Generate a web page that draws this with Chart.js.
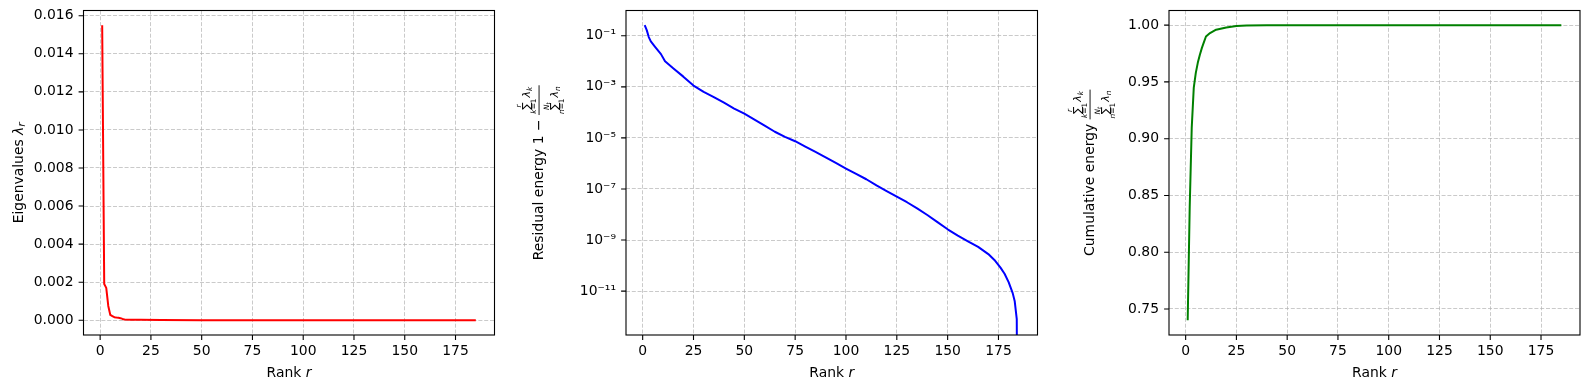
<!DOCTYPE html>
<html>
<head>
<meta charset="utf-8">
<script src="https://cdn.jsdelivr.net/npm/chart.js@4.4.1/dist/chart.umd.min.js"></script>
<style>
  html, body { margin: 0; padding: 0; background: #fff; }
  #wrap { position: relative; width: 1590px; height: 389px; overflow: hidden; }
  canvas { position: absolute; top: 0; }
</style>
</head>
<body>
<div id="wrap">
  <canvas id="c1" width="505" height="389" style="left:0px"></canvas>
  <canvas id="c2" width="545" height="389" style="left:505px"></canvas>
  <canvas id="c3" width="540" height="389" style="left:1050px"></canvas>
</div>
<script>
// ---- data ----
const xTicks = [0, 25, 50, 75, 100, 125, 150, 175];

// eigenvalues lambda_r
const eigRanks  = [1, 2, 3, 4, 5, 6, 7, 8, 9, 10, 11, 12, 15, 20, 30, 50, 185];
const eigValues = [0.0155, 0.0019, 0.0017, 0.00075, 0.00028, 0.00022, 0.00016, 0.00014,
                   0.00013, 0.00011, 0.00007, 0.00004, 0.00003, 0.00002, 0.00001, 0.000004, 0.0];
const eigTicks  = [0, 0.002, 0.004, 0.006, 0.008, 0.010, 0.012, 0.014, 0.016];

// residual energy (185 is a clipped zero on the log axis)
const resRanks  = [1, 2, 3, 4, 6, 8, 9, 11, 15, 20, 25, 30, 35, 40, 45, 50, 55, 60, 65, 70,
                   75, 80, 85, 90, 95, 100, 105, 110, 115, 120, 125, 130, 135, 140, 145, 150,
                   155, 160, 165, 170, 173, 176, 178, 180, 182, 183, 184, 185];
const resValues = [0.260, 0.166, 0.0891, 0.0603, 0.0380, 0.0240, 0.0191, 0.0100, 5.37e-3,
                   2.51e-3, 1.12e-3, 6.31e-4, 3.98e-4, 2.40e-4, 1.41e-4, 8.91e-5, 5.25e-5,
                   3.02e-5, 1.74e-5, 1.10e-5, 7.41e-6, 4.57e-6, 2.82e-6, 1.74e-6, 1.05e-6,
                   6.31e-7, 3.89e-7, 2.40e-7, 1.38e-7, 8.32e-8, 5.01e-8, 3.02e-8, 1.74e-8,
                   9.55e-9, 5.01e-9, 2.63e-9, 1.48e-9, 8.91e-10, 5.37e-10, 2.82e-10, 1.66e-10,
                   8.32e-11, 4.79e-11, 2.24e-11, 8.32e-12, 3.98e-12, 7.94e-13, 1e-30];
const resTicks  = [1e-1, 1e-3, 1e-5, 1e-7, 1e-9, 1e-11];

// cumulative energy
const cumRanks  = [1, 2, 3, 4, 5, 6, 7, 8, 9, 10, 12, 15, 20, 25, 30, 40, 50, 185];
const cumValues = [0.740, 0.840, 0.910, 0.945, 0.958, 0.967, 0.974, 0.980, 0.985, 0.990,
                   0.993, 0.996, 0.998, 0.9992, 0.9996, 0.9999, 1.0, 1.0];
const cumTicks  = [0.75, 0.80, 0.85, 0.90, 0.95, 1.00];

// ---- text helpers (matplotlib-like mathtext labels) ----
const FAM = '"DejaVu Sans", sans-serif';
const FS = 13.9, S1 = 11, S2 = 7.4, S3 = 5.4;
const fnt = (s, it) => (it ? 'italic ' : '') + s + 'px ' + FAM;

function runWidth(ctx, parts) {
  let w = 0;
  for (const p of parts) { ctx.font = fnt(p[1], p[2]); w += ctx.measureText(p[0]).width; }
  return w;
}
function drawRun(ctx, x, y, parts) {
  for (const p of parts) {
    ctx.font = fnt(p[1], p[2]);
    ctx.fillText(p[0], x, y + (p[3] || 0));
    x += ctx.measureText(p[0]).width;
  }
  return x;
}
// sum with limits above/below followed by lambda_idx
function sumTerm(ctx, x, base, upper, lower, idx, draw) {
  ctx.font = fnt(S1);
  const ws = ctx.measureText('∑').width;
  const wu = runWidth(ctx, upper), wl = runWidth(ctx, lower);
  const colW = Math.max(ws, wu, wl);
  const tail = [['λ', S1, true], [idx, S2, true, 2.2]];
  if (draw) {
    ctx.font = fnt(S1);
    ctx.fillText('∑', x + (colW - ws) / 2, base);
    drawRun(ctx, x + (colW - wu) / 2, base - 9, upper);
    drawRun(ctx, x + (colW - wl) / 2, base + 6.3, lower);
    drawRun(ctx, x + colW + 1, base, tail);
  }
  return colW + 1 + runWidth(ctx, tail);
}
function fraction(ctx, x, draw) {
  const up1 = [['r', S2, true]], lo1 = [['k', S2, true], ['=1', S2]];
  const up2 = [['N', S2, true], ['t', S3, true, 1.4]], lo2 = [['n', S2, true], ['=1', S2]];
  const nw = sumTerm(ctx, 0, 0, up1, lo1, 'k', false);
  const dw = sumTerm(ctx, 0, 0, up2, lo2, 'n', false);
  const w = Math.max(nw, dw) + 2;
  if (draw) {
    sumTerm(ctx, x + (w - nw) / 2, -13.5, up1, lo1, 'k', true);
    sumTerm(ctx, x + (w - dw) / 2, 15, up2, lo2, 'n', true);
    ctx.fillRect(x, -4.4, w, 0.9);
  }
  return w;
}

// draws box, outward tick marks and axis titles
function mplFrame(yLabel, yAnchorX) {
  return {
    id: 'mplFrame',
    afterDraw(chart) {
      const ctx = chart.ctx, a = chart.chartArea;
      const xs = chart.scales.x, ys = chart.scales.y;
      ctx.save();
      ctx.strokeStyle = '#000';
      ctx.lineWidth = 1.1;
      ctx.strokeRect(a.left, a.top, a.right - a.left, a.bottom - a.top);
      ctx.beginPath();
      xs.ticks.forEach(t => {
        const px = xs.getPixelForValue(t.value);
        ctx.moveTo(px, a.bottom); ctx.lineTo(px, a.bottom + 4.9);
      });
      ys.ticks.forEach(t => {
        const py = ys.getPixelForValue(t.value);
        ctx.moveTo(a.left, py); ctx.lineTo(a.left - 4.9, py);
      });
      ctx.stroke();

      ctx.fillStyle = '#000';
      ctx.textBaseline = 'alphabetic';
      ctx.textAlign = 'left';
      const xl = [['Rank ', FS], ['r', FS, true]];
      drawRun(ctx, (a.left + a.right) / 2 - runWidth(ctx, xl) / 2, 376.5, xl);

      ctx.translate(yAnchorX, (a.top + a.bottom) / 2);
      ctx.rotate(-Math.PI / 2);
      if (yLabel === 'eig') {
        const p = [['Eigenvalues ', FS], ['λ', FS, true], ['r', S1, true, 2.6]];
        drawRun(ctx, -runWidth(ctx, p) / 2, 0, p);
      } else {
        const p = [[yLabel === 'res' ? 'Residual energy 1 − ' : 'Cumulative energy ', FS]];
        const tw = runWidth(ctx, p);
        const total = tw + fraction(ctx, 0, false);
        const x0 = drawRun(ctx, -total / 2, 0, p);
        fraction(ctx, x0, true);
      }
      ctx.restore();
    }
  };
}

Chart.defaults.font.family = FAM;
Chart.defaults.font.size = FS;
Chart.defaults.color = '#000';

const gridOpts = { color: 'rgba(176,176,176,0.75)', lineWidth: 0.9, drawTicks: false };
const borderOpts = { display: false, dash: [4, 1.8] };

function fixSize(prop, val) {
  return s => {
    s[prop] = val;
    s.paddingTop = 0; s.paddingBottom = 0; s.paddingLeft = 0; s.paddingRight = 0;
  };
}
const setTicks = arr => s => { s.ticks = arr.map(v => ({ value: v })); };

function makeChart(id, o) {
  return new Chart(document.getElementById(id), {
    type: 'line',
    data: {
      datasets: [{
        data: o.ranks.map((r, i) => ({ x: r, y: o.values[i] })),
        borderColor: o.color,
        borderWidth: 2,
        borderJoinStyle: 'round',
        pointRadius: 0,
        tension: 0,
        fill: false
      }]
    },
    options: {
      responsive: false,
      animation: false,
      events: [],
      layout: { padding: { left: 0, top: 10.5, right: o.padRight, bottom: 0 } },
      plugins: { legend: { display: false }, tooltip: { enabled: false } },
      scales: {
        x: {
          type: 'linear',
          min: -8.2, max: 194.2,
          grid: gridOpts, border: borderOpts,
          ticks: { padding: 8, maxRotation: 0, autoSkip: false, callback: v => String(v) },
          afterBuildTicks: setTicks(xTicks),
          afterFit: fixSize('height', 54)
        },
        y: {
          type: o.yType,
          min: o.yMin, max: o.yMax,
          grid: gridOpts, border: borderOpts,
          ticks: { padding: 10, autoSkip: false, callback: o.fmt },
          afterBuildTicks: setTicks(o.yTicks),
          afterFit: fixSize('width', o.yWidth)
        }
      }
    },
    plugins: [mplFrame(o.label, o.labelX)]
  });
}

const supDigits = { '0': '⁰', '1': '¹', '2': '²', '3': '³', '4': '⁴', '5': '⁵', '6': '⁶', '7': '⁷', '8': '⁸', '9': '⁹', '-': '⁻' };
const logLabel = v => '10' + String(Math.round(Math.log10(v))).split('').map(c => supDigits[c]).join('');

makeChart('c1', {
  ranks: eigRanks, values: eigValues, color: '#ff0000',
  yType: 'linear', yMin: -0.000775, yMax: 0.016275, yTicks: eigTicks,
  fmt: v => v.toFixed(3), yWidth: 83.5, padRight: 10.5, label: 'eig', labelX: 22.7
});
makeChart('c2', {
  ranks: resRanks, values: resValues, color: '#0000ff',
  yType: 'logarithmic', yMin: Math.pow(10, -12.72), yMax: Math.pow(10, -0.01), yTicks: resTicks,
  fmt: logLabel, yWidth: 121, padRight: 12.5, label: 'res', labelX: 38
});
makeChart('c3', {
  ranks: cumRanks, values: cumValues, color: '#008000',
  yType: 'linear', yMin: 0.7271, yMax: 1.0129, yTicks: cumTicks,
  fmt: v => v.toFixed(2), yWidth: 119, padRight: 10, label: 'cum', labelX: 44
});
</script>
</body>
</html>
